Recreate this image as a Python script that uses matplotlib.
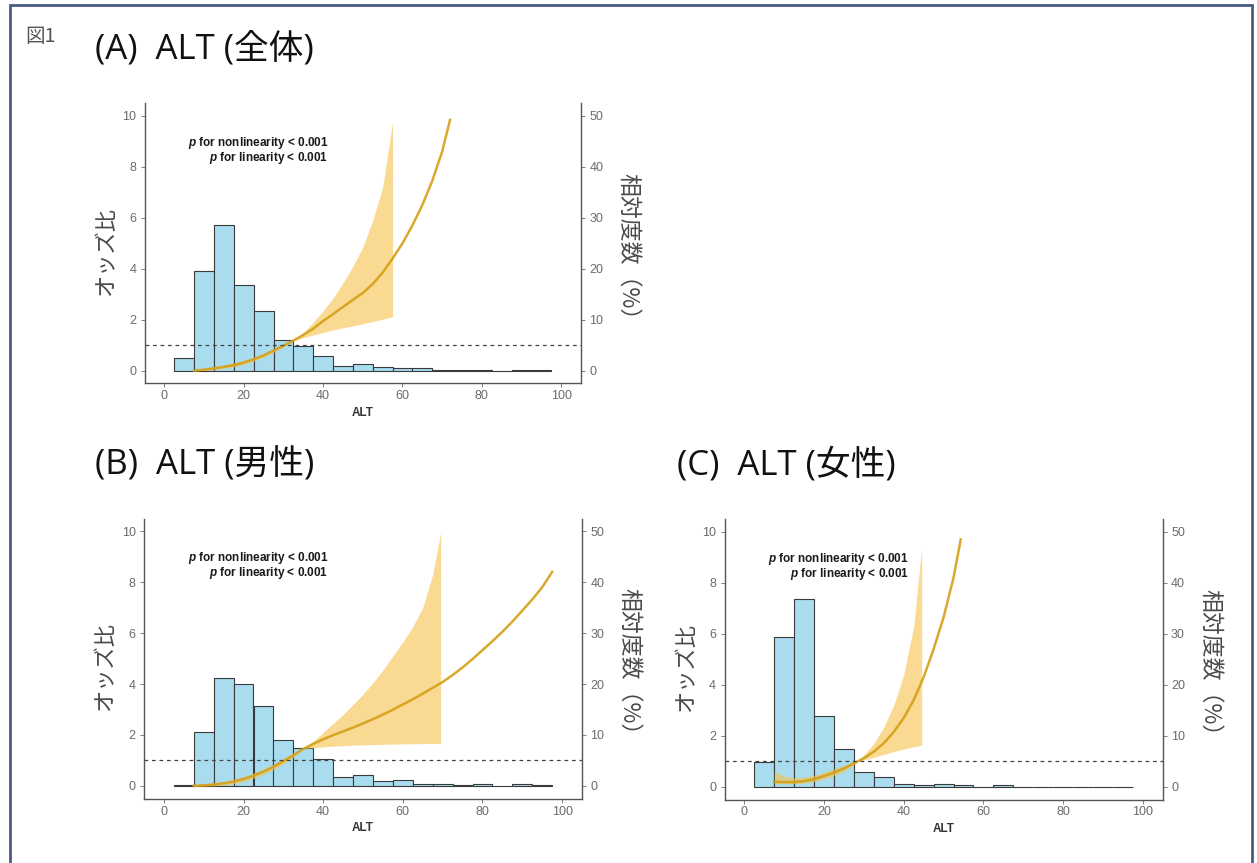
import matplotlib
matplotlib.use('Agg')
import matplotlib.pyplot as plt
from matplotlib.patches import Rectangle

plt.rcParams['font.family'] = ['Liberation Sans', 'Noto Sans CJK JP']
plt.rcParams['mathtext.fontset'] = 'custom'
plt.rcParams['mathtext.it'] = 'Liberation Sans:bold:italic'
plt.rcParams['mathtext.rm'] = 'Liberation Sans:bold'

JP = ['Noto Sans CJK JP']
TITLE_FONT = ['Open Sans', 'Noto Sans CJK JP']

# histogram bins (ALT, width 5) and relative frequency (%)
alt_bins = [5, 10, 15, 20, 25, 30, 35, 40, 45, 50, 55, 60, 65, 70, 75, 80, 85, 90, 95]
hist_all = [2.5, 19.5, 28.6, 16.8, 11.7, 6.0, 4.9, 2.9, 1.0, 1.25, 0.7, 0.6, 0.5, 0.2, 0.15, 0.2, 0.03, 0.2, 0.1]
hist_men = [0.25, 10.5, 21.2, 20.0, 15.6, 9.05, 7.4, 5.25, 1.7, 2.1, 1.05, 1.1, 0.4, 0.4, 0.2, 0.4, 0.0, 0.4, 0.2]
hist_wom = [4.95, 29.45, 36.9, 13.9, 7.4, 2.95, 1.9, 0.6, 0.25, 0.5, 0.25, 0.0, 0.25, 0.0, 0.0, 0.0, 0.0, 0.0, 0.0]

# odds ratio curves
all_x = [7.5, 10, 12.5, 15, 17.5, 20, 22.5, 25, 27.5, 30, 32.5, 35, 37.5, 40, 42.5, 45, 47.5, 50,
         52.5, 55, 57.5, 60, 62.5, 65, 67.5, 70, 72]
all_or = [0.0, 0.04, 0.09, 0.15, 0.22, 0.32, 0.45, 0.6, 0.79, 0.98, 1.18, 1.4, 1.65, 1.95, 2.22, 2.5,
          2.78, 3.05, 3.4, 3.85, 4.4, 5.0, 5.7, 6.5, 7.45, 8.6, 9.85]
all_ci_x = [7.5, 10, 12.5, 15, 17.5, 20, 22.5, 25, 27.5, 30, 32.5, 35, 37.5, 40, 42.5, 45, 47.5, 50,
            52.5, 55, 57.5]
all_lo = [0.0, 0.01, 0.04, 0.09, 0.15, 0.24, 0.37, 0.52, 0.72, 0.93, 1.18, 1.3, 1.4, 1.5, 1.6, 1.68,
          1.76, 1.84, 1.93, 2.02, 2.12]
all_hi = [0.04, 0.09, 0.15, 0.22, 0.3, 0.4, 0.53, 0.68, 0.86, 1.03, 1.18, 1.5, 1.9, 2.35, 2.85, 3.45,
          4.1, 4.85, 5.9, 7.2, 9.75]

men_x = [7.5, 10, 12.5, 15, 17.5, 20, 22.5, 25, 27.5, 30, 32.5, 35, 37.5, 40, 42.5, 45, 47.5, 50,
         52.5, 55, 57.5, 60, 62.5, 65, 67.5, 70, 72.5, 75, 77.5, 80, 82.5, 85, 87.5, 90, 92.5, 95, 97.5]
men_or = [0.0, 0.02, 0.05, 0.1, 0.17, 0.27, 0.4, 0.56, 0.75, 0.97, 1.2, 1.45, 1.65, 1.83, 1.99, 2.14,
          2.29, 2.45, 2.62, 2.8, 2.99, 3.2, 3.4, 3.62, 3.85, 4.08, 4.35, 4.65, 4.98, 5.33, 5.68, 6.05,
          6.45, 6.88, 7.32, 7.8, 8.4]
men_ci_x = [7.5, 10, 12.5, 15, 17.5, 20, 22.5, 25, 27.5, 30, 32.5, 35, 37.5, 40, 42.5, 45, 47.5, 50,
            52.5, 55, 57.5, 60, 62.5, 65, 67.5, 69.5]
men_lo = [0.0, 0.0, 0.0, 0.03, 0.08, 0.17, 0.3, 0.45, 0.64, 0.86, 1.12, 1.45, 1.5, 1.53, 1.56, 1.58,
          1.6, 1.61, 1.62, 1.63, 1.64, 1.65, 1.65, 1.66, 1.66, 1.66]
men_hi = [0.05, 0.08, 0.12, 0.18, 0.26, 0.36, 0.5, 0.66, 0.85, 1.07, 1.28, 1.45, 1.75, 2.1, 2.45, 2.8,
          3.2, 3.6, 4.05, 4.55, 5.1, 5.65, 6.25, 7.0, 8.3, 9.95]

wom_x = [7.5, 10, 12.5, 15, 17.5, 20, 22.5, 25, 27.5, 30, 32.5, 35, 37.5, 40, 42.5, 45, 47.5, 50,
         52.5, 54.3]
wom_or = [0.2, 0.18, 0.18, 0.22, 0.3, 0.42, 0.56, 0.72, 0.92, 1.12, 1.38, 1.71, 2.15, 2.7, 3.4, 4.3,
          5.4, 6.65, 8.2, 9.7]
wom_ci_x = [7.5, 10, 12.5, 15, 17.5, 20, 22.5, 25, 27.5, 28.5, 30, 32.5, 35, 37.5, 40, 42.5, 44.5]
wom_lo = [0.12, 0.11, 0.12, 0.14, 0.2, 0.3, 0.43, 0.6, 0.86, 1.0, 1.05, 1.15, 1.27, 1.38, 1.48, 1.57, 1.63]
wom_hi = [0.6, 0.42, 0.35, 0.38, 0.45, 0.57, 0.7, 0.84, 0.96, 1.0, 1.25, 1.7, 2.35, 3.2, 4.4, 6.3, 9.4]

p_text = [r'$p$ for nonlinearity < 0.001', r'$p$ for linearity < 0.001']

W, H = 1257, 863
fig = plt.figure(figsize=(W / 100, H / 100), dpi=100)

tick_col = '#6b6b6b'
spine_col = '#555555'


def px_rect(left, top, right, bottom):
    return [left / W, 1 - bottom / H, (right - left) / W, (bottom - top) / H]


def draw_panel(rect, hist, lx, ly, cx, clo, chi):
    ax = fig.add_axes(rect)
    ax2 = ax.twinx()
    ax.set_zorder(ax2.get_zorder() + 1)
    ax.patch.set_visible(False)

    ax2.bar(alt_bins, hist, width=5, color='#A9DCEE', edgecolor='#3a3a3a', linewidth=0.8)
    ax.fill_between(cx, clo, chi, color='#F8C24A', alpha=0.6, linewidth=0)
    ax.plot(lx, ly, color='#D4A017', lw=1.8, alpha=0.9)
    ax.axhline(1, color='#444444', lw=0.9, ls=(0, (3, 3)))

    ax.set_xlim(-5, 105)
    ax.set_ylim(-0.5, 10.5)
    ax2.set_ylim(-2.5, 52.5)
    ax.set_xticks([0, 20, 40, 60, 80, 100])
    ax.set_yticks([0, 2, 4, 6, 8, 10])
    ax2.set_yticks([0, 10, 20, 30, 40, 50])

    for a in (ax, ax2):
        a.tick_params(direction='out', length=3, width=0.6, colors=tick_col,
                      labelsize=9, pad=3)
        for s in a.spines.values():
            s.set_color(spine_col)
            s.set_linewidth(1.0)
        a.spines['top'].set_visible(False)
    ax.spines['right'].set_visible(False)
    ax2.spines['left'].set_visible(False)
    ax2.spines['bottom'].set_visible(False)
    ax.tick_params(axis='x', pad=2)

    ax.text(41.3, 8.95, p_text[0], ha='right', va='center', fontsize=8.5,
            fontweight='bold', color='#1a1a1a')
    ax.text(41.3, 8.36, p_text[1], ha='right', va='center', fontsize=8.5,
            fontweight='bold', color='#1a1a1a')

    ax.text(0.5, -0.105, 'ALT', transform=ax.transAxes, ha='center', va='center',
            fontsize=8.5, fontweight='bold', color='#333333')
    ax.text(-0.09, 0.47, 'オッズ比', transform=ax.transAxes, rotation=90,
            ha='center', va='center', fontsize=16, color='#4a4a4a', family=JP)
    ax.text(1.107, 0.47, '相対度数（%）', transform=ax.transAxes, rotation=270,
            ha='center', va='center', fontsize=16.5, color='#4a4a4a', family=JP)
    return ax


draw_panel(px_rect(144.6, 103.2, 581, 383.4), hist_all, all_x, all_or, all_ci_x, all_lo, all_hi)
draw_panel(px_rect(144, 518.5, 582, 798.6), hist_men, men_x, men_or, men_ci_x, men_lo, men_hi)
draw_panel(px_rect(724.5, 519, 1162.7, 799.5), hist_wom, wom_x, wom_or, wom_ci_x, wom_lo, wom_hi)

fig.text(95 / W, 1 - 49 / H, '(A)  ALT (全体)', fontsize=25, va='center', family=TITLE_FONT, color='#111111')
fig.text(95 / W, 1 - 465 / H, '(B)  ALT (男性)', fontsize=25, va='center', family=TITLE_FONT, color='#111111')
fig.text(677 / W, 1 - 465 / H, '(C)  ALT (女性)', fontsize=25, va='center', family=TITLE_FONT, color='#111111')
fig.text(25 / W, 1 - 36 / H, '図1', fontsize=14, va='center', family=JP, color='#555555')

fig.patches.append(Rectangle((10 / W, -0.02), 1242 / W, 1.02 - 5 / H, transform=fig.transFigure,
                             fill=False, edgecolor='#4B5A82', linewidth=2))

fig.savefig('out.png', dpi=100)
